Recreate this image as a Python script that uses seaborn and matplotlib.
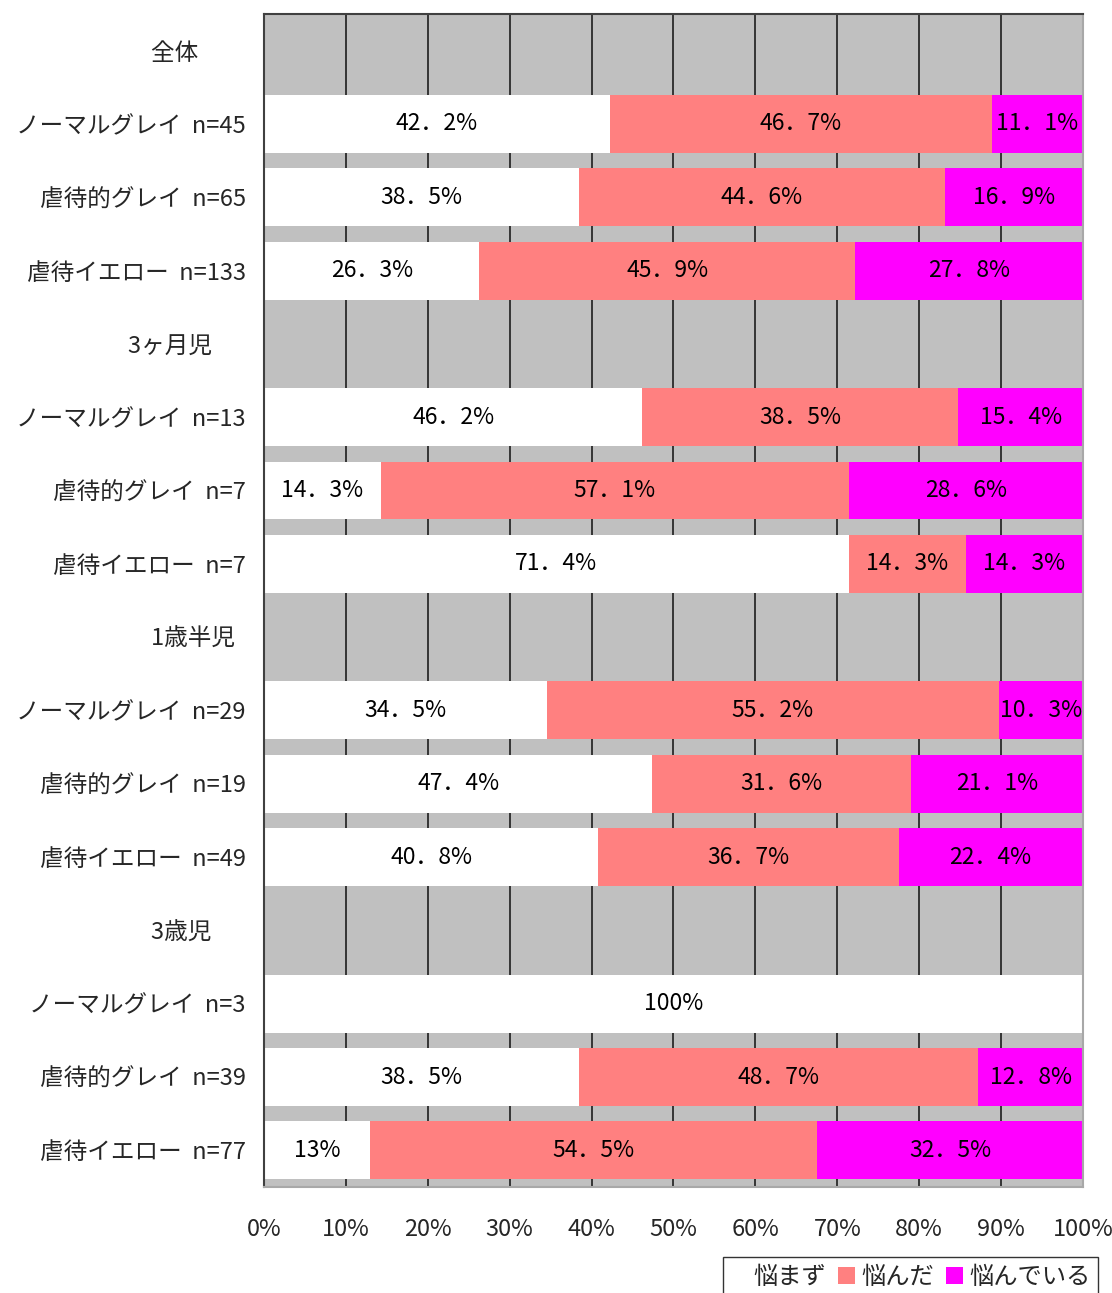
import numpy as np
import pandas as pd
import matplotlib
matplotlib.use("Agg")
import matplotlib.pyplot as plt
from matplotlib.patches import Patch
import seaborn as sns

# Row labels, top to bottom (group headers carry no bars)
row_labels = [
    "全体　　",
    "ノーマルグレイ  n=45",
    "虐待的グレイ  n=65",
    "虐待イエロー  n=133",
    "3ヶ月児　  ",
    "ノーマルグレイ  n=13",
    "虐待的グレイ  n=7",
    "虐待イエロー  n=7",
    "1歳半児  ",
    "ノーマルグレイ  n=29",
    "虐待的グレイ  n=19",
    "虐待イエロー  n=49",
    "3歳児　  ",
    "ノーマルグレイ  n=3",
    "虐待的グレイ  n=39",
    "虐待イエロー  n=77",
]
series_names = ["悩まず", "悩んだ", "悩んでいる"]

nayamazu = [np.nan, 42.2, 38.5, 26.3, np.nan, 46.2, 14.3, 71.4, np.nan, 34.5, 47.4, 40.8, np.nan, 100.0, 38.5, 13.0]
nayanda = [np.nan, 46.7, 44.6, 45.9, np.nan, 38.5, 57.1, 14.3, np.nan, 55.2, 31.6, 36.7, np.nan, 0.0, 48.7, 54.5]
nayandeiru = [np.nan, 11.1, 16.9, 27.8, np.nan, 15.4, 28.6, 14.3, np.nan, 10.3, 21.1, 22.4, np.nan, 0.0, 12.8, 32.5]

colors = ["#FFFFFF", "#FF8080", "#FF00FF"]

sns.set_style("white")
plt.rcParams["font.family"] = ["Noto Sans CJK JP", "DejaVu Sans"]

row_ids = [f"r{i:02d}" for i in range(len(row_labels))]
df = pd.DataFrame({
    "row": row_ids,
    "a": nayamazu,
    "b": nayanda,
    "c": nayandeiru,
})
df["cum1"] = df["a"]
df["cum2"] = df["a"] + df["b"]
df["cum3"] = df["a"] + df["b"] + df["c"]

fig = plt.figure(figsize=(11.12, 12.93), dpi=100)
ax = fig.add_axes([0.2374, 0.0820, 0.9739 - 0.2374, 0.98917 - 0.0820])
ax.set_facecolor("#C0C0C0")

# stacked bars: draw cumulative totals from the outermost segment inward
for col, color in zip(["cum3", "cum2", "cum1"], colors[::-1]):
    sns.barplot(data=df, x=col, y="row", order=row_ids, orient="h",
                color=color, saturation=1, width=0.79, errorbar=None,
                linewidth=0, ax=ax)

# value labels centred in each segment
for i, (a, b, c) in enumerate(zip(nayamazu, nayanda, nayandeiru)):
    if np.isnan(a):
        continue
    left = 0.0
    for v in (a, b, c):
        if v > 0:
            txt = f"{v:g}".replace(".", "．") + "%"
            ax.text(left + v / 2, i, txt, ha="center", va="center",
                    fontsize=16.5, color="black")
        left += v

ax.set_xlim(0, 100)
ax.set_ylim(len(row_labels) - 0.5, -0.5)
ax.set_xticks(np.arange(0, 101, 10))
ax.set_xticklabels([f"{t}%" for t in range(0, 101, 10)], fontsize=17)
ax.set_yticks(range(len(row_labels)))
ax.set_yticklabels(row_labels, fontsize=17)
ax.tick_params(axis="x", length=0, pad=22)
ax.tick_params(axis="y", length=0, pad=13)
ax.set_xlabel("")
ax.set_ylabel("")

ax.set_axisbelow(True)
ax.grid(axis="x", color="#2A2A2A", linewidth=1.3)
ax.grid(axis="y", visible=False)

for side in ["left", "top"]:
    ax.spines[side].set_color("#404040")
    ax.spines[side].set_linewidth(1.5)
for side in ["bottom", "right"]:
    ax.spines[side].set_color("#A8A8A8")
    ax.spines[side].set_linewidth(1.5)

handles = [Patch(facecolor=c, edgecolor="none", label=n) for c, n in zip(colors, series_names)]
leg = fig.legend(handles=handles, loc="upper left",
                 bbox_to_anchor=(0.650, 0.0278), bbox_transform=fig.transFigure,
                 ncol=3, fontsize=17.5, frameon=True, fancybox=False,
                 handlelength=0.7, handleheight=0.7, handletextpad=0.25,
                 columnspacing=0.5, borderpad=0.3, borderaxespad=0)
leg.get_frame().set_edgecolor("black")
leg.get_frame().set_linewidth(1.0)

fig.savefig("out.png", dpi=100)
